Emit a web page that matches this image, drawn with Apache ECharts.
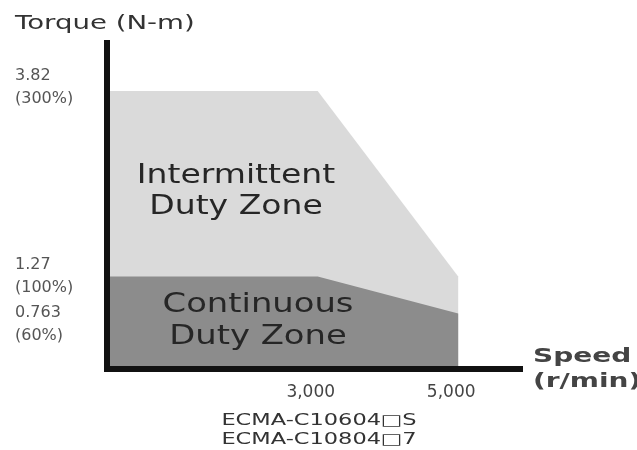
<!DOCTYPE html>
<html>
<head>
<meta charset="utf-8">
<script src="https://cdn.jsdelivr.net/npm/echarts@6/dist/echarts.min.js"></script>
<style>
html,body{margin:0;padding:0;background:#fff;}
#chart{width:637px;height:450px;}
</style>
</head>
<body>
<div id="chart"></div>
<script>
// ---- data ----
const intermittentSpeed = [0, 3000, 5000];
const intermittentTorque = [3.82, 3.82, 1.27];
const continuousSpeed = [0, 3000, 5000];
const continuousTorque = [1.27, 1.27, 0.763];
const xTickValues = [3000, 5000];
const xTickLabels = ['3,000', '5,000'];
const yTickValues = [3.82, 1.27, 0.763];
const yTickLabels = ['3.82', '1.27', '0.763'];
const yTickPercent = ['(300%)', '(100%)', '(60%)'];
const models = ['ECMA-C10604\u25A1S', 'ECMA-C10804\u25A17'];

const FONT = '"DejaVu Sans", sans-serif';
const Y_MAX = 4.48;
const chart = echarts.init(document.getElementById('chart'));

function pairs(xs, ys) { return xs.map((x, i) => [x, ys[i]]); }

function yLabel(v) {
  const i = yTickValues.indexOf(v);
  if (i < 0) return '';
  const body = '{v|' + yTickLabels[i] + '}\n{v|' + yTickPercent[i] + '}';
  if (i === 0) return body + '\n{a| }';
  if (i === 2) return '{b| }\n' + body;
  return body;
}
const yRich = {
  v: { fontFamily: FONT, fontSize: 16, color: '#555', lineHeight: 23 },
  a: { fontSize: 4, lineHeight: 8, height: 8 },
  b: { fontSize: 4, lineHeight: 21, height: 21 }
};

function makeYAxis(values, showLine) {
  return {
    type: 'value', min: 0, max: Y_MAX, z: 5, position: 'left',
    splitLine: { show: false },
    axisTick: { show: false },
    axisLine: { show: showLine, lineStyle: { color: '#111', width: 6, cap: 'square' } },
    axisLabel: {
      customValues: values, hideOverlap: false,
      align: 'left', margin: 92,
      formatter: yLabel, rich: yRich
    }
  };
}

chart.setOption({
  animation: false,
  backgroundColor: '#ffffff',
  grid: { left: 107, right: 117, top: 43, bottom: 81 },
  xAxis: {
    type: 'value', min: 0, max: 5880, z: 5,
    splitLine: { show: false },
    axisTick: { show: false },
    axisLine: { lineStyle: { color: '#111', width: 6, cap: 'square' } },
    axisLabel: {
      customValues: xTickValues,
      hideOverlap: false,
      formatter: v => xTickLabels[xTickValues.indexOf(v)] || '',
      fontFamily: FONT, fontSize: 17, color: '#444', margin: 15,
      padding: [0, 14, 0, 0]
    }
  },
  yAxis: [
    makeYAxis([yTickValues[0], yTickValues[1]], true),
    makeYAxis([yTickValues[2]], false)
  ],
  series: [
    {
      type: 'line', name: 'Intermittent Duty Zone', yAxisIndex: 0,
      data: pairs(intermittentSpeed, intermittentTorque),
      symbol: 'none', lineStyle: { width: 0 },
      areaStyle: { color: '#dadada', opacity: 1 }, z: 1
    },
    {
      type: 'line', name: 'Continuous Duty Zone', yAxisIndex: 0,
      data: pairs(continuousSpeed, continuousTorque),
      symbol: 'none', lineStyle: { width: 0 },
      areaStyle: { color: '#8c8c8c', opacity: 1 }, z: 2
    }
  ],
  graphic: [
    { type: 'text', x: 15, y: 24, scaleX: 1.38, z: 10,
      style: { text: 'Torque (N-m)', font: '20px ' + FONT, fill: '#333', verticalAlign: 'middle' } },
    { type: 'text', x: 533, y: 369, scaleX: 1.4, z: 10,
      style: { text: 'Speed\n(r/min)', font: 'bold 20px ' + FONT, fill: '#444', lineHeight: 25, verticalAlign: 'middle' } },
    { type: 'text', x: 236, y: 192, scaleX: 1.27, z: 10,
      style: { text: 'Intermittent\nDuty Zone', font: '26px ' + FONT, fill: '#262626', lineHeight: 31, align: 'center', verticalAlign: 'middle' } },
    { type: 'text', x: 258, y: 321, scaleX: 1.3, z: 10,
      style: { text: 'Continuous\nDuty Zone', font: '26px ' + FONT, fill: '#262626', lineHeight: 32, align: 'center', verticalAlign: 'middle' } },
    { type: 'text', x: 319, y: 431, scaleX: 1.5, z: 10,
      style: { text: models.join('\n'), font: '15px ' + FONT, fill: '#333', lineHeight: 19, align: 'center', verticalAlign: 'middle' } }
  ]
});
</script>
</body>
</html>
